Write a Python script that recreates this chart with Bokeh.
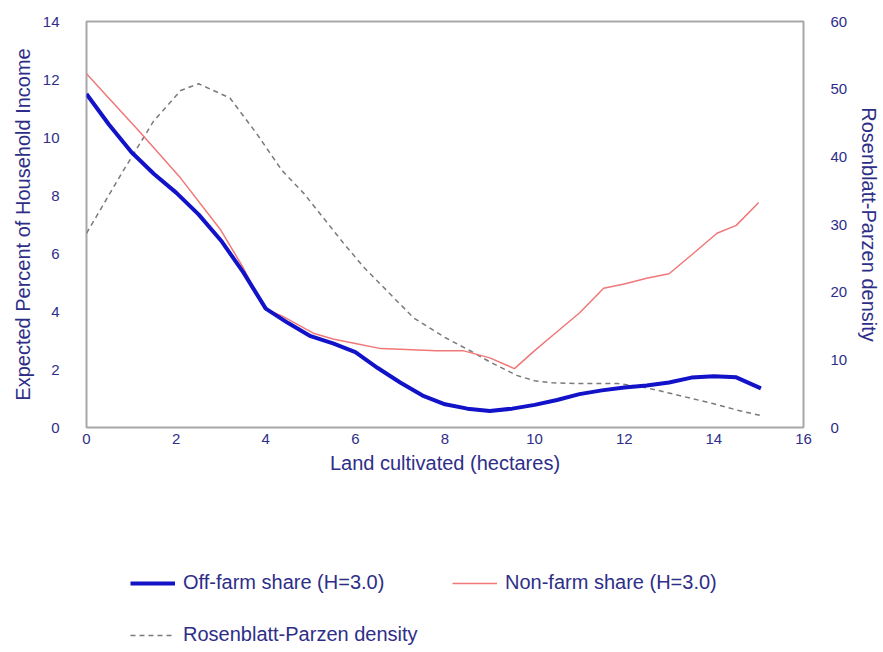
from bokeh.plotting import figure
from bokeh.layouts import column
from bokeh.models import Range1d, LinearAxis, Legend, LegendItem, FixedTicker
from bokeh.embed import file_html
from bokeh.resources import INLINE

# ---- data ----
land_offfarm = [0, 0.5, 1.0, 1.5, 2.0, 2.5, 3.0, 3.5, 4.0, 4.5, 5.0, 5.5, 6.0, 6.5, 7.0,
                7.5, 8.0, 8.5, 9.0, 9.5, 10.0, 10.5, 11.0, 11.5, 12.0, 12.5, 13.0,
                13.5, 14.0, 14.5, 15.05]
offfarm_share = [11.5, 10.45, 9.5, 8.75, 8.1, 7.35, 6.45, 5.35, 4.1, 3.6, 3.15, 2.9, 2.6,
                 2.05, 1.55, 1.1, 0.8, 0.65, 0.57, 0.65, 0.78, 0.95, 1.15, 1.28, 1.38,
                 1.45, 1.55, 1.72, 1.77, 1.73, 1.35]

land_nonfarm = [0, 0.5, 1.16, 2.1, 3.0, 3.5, 3.97, 4.36, 5.08, 5.5, 6.0, 6.57, 7.0, 7.8,
                8.4, 9.0, 9.55, 10.0, 10.5, 11.0, 11.54, 12.0, 12.5, 13.0, 13.5,
                14.07, 14.5, 15.0]
nonfarm_share = [12.2, 11.35, 10.24, 8.6, 6.8, 5.5, 4.1, 3.85, 3.24, 3.05, 2.9, 2.72,
                 2.7, 2.65, 2.65, 2.4, 2.03, 2.65, 3.3, 3.95, 4.8, 4.95, 5.15, 5.3,
                 5.95, 6.7, 6.97, 7.76]

land_density = [0, 0.78, 1.5, 2.1, 2.5, 3.2, 3.8, 4.36, 4.85, 5.74, 6.2, 7.3, 8.0, 8.6,
                9.0, 9.6, 10.0, 10.4, 11.0, 11.85, 12.4, 12.74, 13.5, 14.0, 14.5, 15.03]
density = [28.7, 37.5, 45.3, 49.8, 50.8, 48.7, 43.4, 38.0, 34.6, 27.2, 23.6, 16.2, 13.3,
           11.2, 9.7, 7.7, 6.9, 6.6, 6.5, 6.5, 6.0, 5.5, 4.3, 3.5, 2.6, 1.8]

x_ticks = [0, 2, 4, 6, 8, 10, 12, 14, 16]
left_ticks = [0, 2, 4, 6, 8, 10, 12, 14]
right_ticks = [0, 10, 20, 30, 40, 50, 60]

label_offfarm = "Off-farm share (H=3.0)"
label_nonfarm = "Non-farm share (H=3.0)"
label_density = "Rosenblatt-Parzen density"

# ---- styles ----
FONT = "Liberation Sans"
TXT = "#2e2e88"
BLUE = "#1212c8"
RED = "#f07878"
GREY = "#7a7a7a"
W = 883

p = figure(width=W, height=480, output_backend="svg", toolbar_location=None,
           x_range=Range1d(0, 16), y_range=Range1d(0, 14),
           min_border_left=86, min_border_right=80, min_border_top=21,
           min_border_bottom=53)
p.extra_y_ranges = {"density": Range1d(0, 60)}
p.background_fill_color = "white"
p.border_fill_color = "white"
p.outline_line_color = "#a8a8a8"
p.outline_line_width = 2
p.xgrid.visible = False
p.ygrid.visible = False

line_styles = {
    "density": dict(line_color=GREY, line_width=1.5, line_dash="5 4"),
    "nonfarm": dict(line_color=RED, line_width=1.5),
    "offfarm": dict(line_color=BLUE, line_width=4),
}

p.line(land_density, density, y_range_name="density", **line_styles["density"])
p.line(land_nonfarm, nonfarm_share, **line_styles["nonfarm"])
p.line(land_offfarm, offfarm_share, **line_styles["offfarm"])

right_axis = LinearAxis(y_range_name="density")
p.add_layout(right_axis, "right")


def style(ax, ticks, standoff, title, title_standoff):
    ax.ticker = FixedTicker(ticks=ticks)
    ax.axis_line_color = None
    ax.major_tick_line_color = None
    ax.minor_tick_line_color = None
    ax.major_tick_out = 0
    ax.major_tick_in = 0
    ax.minor_tick_out = 0
    ax.minor_tick_in = 0
    ax.major_label_standoff = standoff
    ax.major_label_text_font = FONT
    ax.major_label_text_font_size = "15px"
    ax.major_label_text_color = TXT
    ax.axis_label = title
    ax.axis_label_text_font = FONT
    ax.axis_label_text_font_size = "20px"
    ax.axis_label_text_font_style = "normal"
    ax.axis_label_text_color = TXT
    ax.axis_label_standoff = title_standoff


style(p.xaxis[0], x_ticks, 6, "Land cultivated (hectares)", 5)
style(p.yaxis[0], left_ticks, 27, "Expected Percent of Household Income", 6)
style(right_axis, right_ticks, 27, "Rosenblatt-Parzen density", 8)

# ---- legend strip below the chart (its frame is aligned with the chart's frame) ----
LH = 172
q = figure(width=W, height=LH, output_backend="svg", toolbar_location=None,
           x_range=Range1d(0, 1), y_range=Range1d(0, 1),
           x_axis_location=None, y_axis_location=None, min_border=0)
q.outline_line_color = None
q.xgrid.visible = False
q.ygrid.visible = False
q.background_fill_color = "white"
q.border_fill_color = "white"

nan = float("nan")
k_off = q.line([nan], [nan], **line_styles["offfarm"])
k_non = q.line([nan], [nan], **line_styles["nonfarm"])
k_den = q.line([nan], [nan], **line_styles["density"])


def add_legend(label, renderer, loc):
    lg = Legend(items=[LegendItem(label=label, renderers=[renderer])],
                location=loc, padding=0, margin=0, border_line_color=None,
                background_fill_alpha=0, glyph_width=45, glyph_height=20,
                label_height=20, label_standoff=8,
                label_text_font=FONT, label_text_font_size="20px",
                label_text_color=TXT)
    q.add_layout(lg, "center")


add_legend(label_offfarm, k_off, (44, 58))
add_legend(label_nonfarm, k_non, (366, 58))
add_legend(label_density, k_den, (44, 6))

open("out.html", "w").write(file_html(column(p, q, spacing=0), INLINE))
